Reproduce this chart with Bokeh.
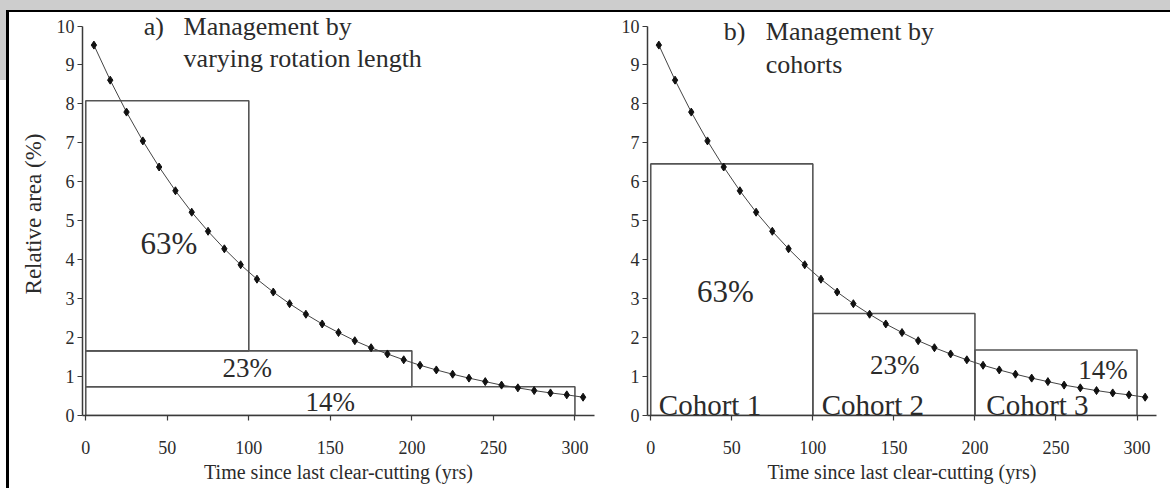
from bokeh.plotting import figure
from bokeh.models import Label, FixedTicker, Range1d, Spacer
from bokeh.layouts import row, column
from bokeh.embed import file_html
from bokeh.resources import INLINE

# ---- data ----
age_mid = [5, 15, 25, 35, 45, 55, 65, 75, 85, 95, 105, 115, 125, 135, 145, 155,
           165, 175, 185, 195, 205, 215, 225, 235, 245, 255, 265, 275, 285, 295, 305]
rel_area = [9.51, 8.61, 7.79, 7.05, 6.38, 5.77, 5.22, 4.73, 4.28, 3.87, 3.50,
            3.17, 2.87, 2.60, 2.35, 2.13, 1.92, 1.74, 1.58, 1.43, 1.29, 1.17,
            1.06, 0.96, 0.87, 0.78, 0.71, 0.64, 0.58, 0.53, 0.47]

# panel a: management by varying rotation length
rot_left = [0, 0, 0]
rot_right = [100, 200, 300]
rot_bottom = [1.66, 0.74, 0.0]
rot_top = [8.08, 1.66, 0.74]
rot_pct = ["63%", "23%", "14%"]

# panel b: management by cohorts
coh_left = [0, 100, 200]
coh_right = [100, 200, 300]
coh_top = [6.46, 2.62, 1.68]
coh_pct = ["63%", "23%", "14%"]
coh_names = ["Cohort 1", "Cohort 2", "Cohort 3"]

x_ticks = [0, 50, 100, 150, 200, 250, 300]
y_ticks = [0, 1, 2, 3, 4, 5, 6, 7, 8, 9, 10]

FONT = "Liberation Serif"
TXT = "#2b2b2b"


def base_fig(frame_w, mbl, ylabel=None):
    p = figure(frame_width=frame_w, height=476,
               x_range=Range1d(-2, 312), y_range=Range1d(0, 10.347),
               output_backend="svg", toolbar_location=None,
               min_border_left=mbl, min_border_right=6, min_border_top=0,
               min_border_bottom=73, outline_line_color=None,
               background_fill_color="white", border_fill_color="white")
    p.grid.visible = False
    for ax in (p.xaxis[0], p.yaxis[0]):
        ax.axis_line_color = "#3a3a3a"
        ax.axis_line_width = 1.5
        ax.major_tick_line_color = "#3a3a3a"
        ax.major_tick_line_width = 1.2
        ax.major_tick_out = 5
        ax.major_tick_in = 0
        ax.minor_tick_line_color = None
        ax.major_label_text_font = FONT
        ax.major_label_text_font_size = "18px"
        ax.major_label_text_color = TXT
        ax.axis_label_text_font = FONT
        ax.axis_label_text_font_style = "normal"
        ax.axis_label_text_color = TXT
    p.xaxis.ticker = FixedTicker(ticks=x_ticks)
    p.yaxis.ticker = FixedTicker(ticks=y_ticks)
    p.yaxis.bounds = (0, 10)
    p.xaxis.major_label_standoff = 20
    p.xaxis.axis_label = "Time since last clear-cutting (yrs)"
    p.xaxis.axis_label_text_font_size = "20px"
    p.xaxis.axis_label_standoff = 4
    p.yaxis.major_label_standoff = 3
    if ylabel:
        p.yaxis.axis_label = ylabel
        p.yaxis.axis_label_text_font_size = "23px"
        p.yaxis.axis_label_standoff = 8
    return p


def add_curve(p):
    p.line(age_mid, rel_area, line_color="#444444", line_width=1)
    p.scatter(age_mid, rel_area, marker="diamond", size=8, fill_color="#111111",
              line_color="#111111")


def lab(p, x, y, text, size, align="center"):
    p.add_layout(Label(x=x, y=y, text=text, text_font=FONT,
                       text_font_size=size, text_color=TXT,
                       text_align=align, text_baseline="middle"))


# ---- panel a ----
pa = base_fig(512, 73, ylabel="Relative area (%)")
pa.quad(left=rot_left, right=rot_right, bottom=rot_bottom, top=rot_top,
        fill_color=None, line_color="#555555", line_width=1.6)
add_curve(pa)
lab(pa, 35.6, 9.99, "a)", "26px", "left")
lab(pa, 60, 9.99, "Management by", "26px", "left")
lab(pa, 60, 9.16, "varying rotation length", "26px", "left")
lab(pa, 51, 4.41, rot_pct[0], "31px")
lab(pa, 99, 1.22, rot_pct[1], "27px")
lab(pa, 150, 0.35, rot_pct[2], "27px")

# ---- panel b ----
pb = base_fig(509, 47)
pb.quad(left=coh_left, right=coh_right, bottom=[0, 0, 0], top=coh_top,
        fill_color=None, line_color="#555555", line_width=1.6)
add_curve(pb)
lab(pb, 45, 9.87, "b)", "26px", "left")
lab(pb, 71, 9.87, "Management by", "26px", "left")
lab(pb, 71, 9.02, "cohorts", "26px", "left")
lab(pb, 46, 3.18, coh_pct[0], "31px")
lab(pb, 150.6, 1.29, coh_pct[1], "27px")
lab(pb, 279, 1.16, coh_pct[2], "27px")
lab(pb, 5, 0.27, coh_names[0], "29px", "left")
lab(pb, 105.5, 0.27, coh_names[1], "29px", "left")
lab(pb, 207, 0.27, coh_names[2], "29px", "left")

GRAY = "#cdcdcd"
top_strip = Spacer(width=1170, height=10, styles={"background-color": GRAY})
left_gray = Spacer(width=6, height=70, styles={"background-color": GRAY})
left_white = Spacer(width=6, height=408)
left_line = Spacer(width=3, height=478, styles={"background-color": "#000000"})
top_line = Spacer(width=1161, height=2, styles={"background-color": "#000000"})

layout = column(
    top_strip,
    row(column(left_gray, left_white), left_line,
        column(top_line, row(pa, pb))),
)

open("out.html", "w").write(file_html(layout, INLINE))
